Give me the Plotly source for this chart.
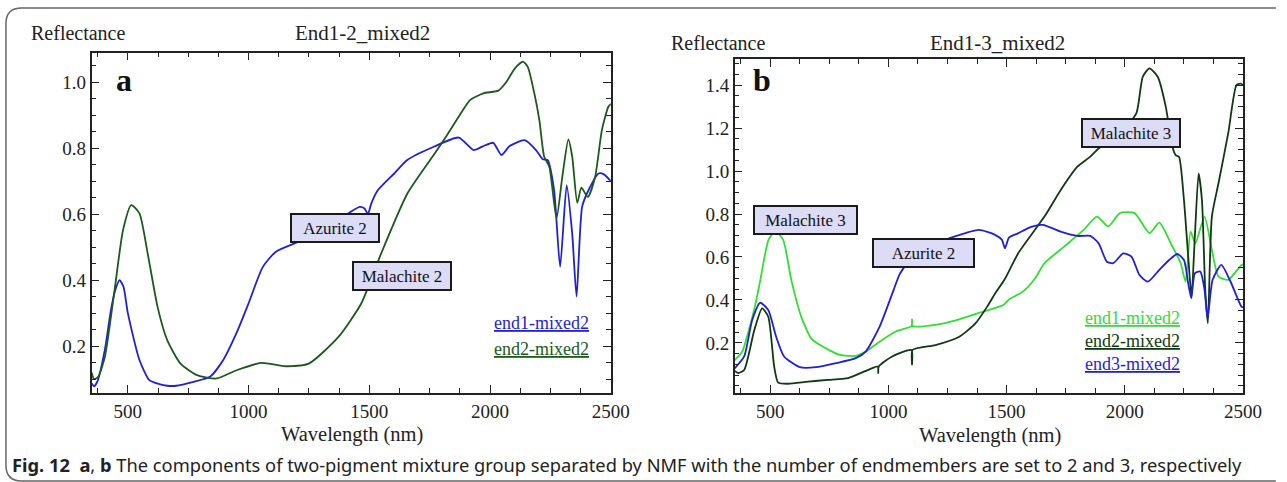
import plotly.graph_objects as go

# ---------------- data ----------------
# Panel a: End1-2_mixed2
a_end1_wl = [350, 360, 375, 405, 430, 450, 466, 482, 500, 548, 589, 630, 663, 700, 772, 840, 895, 950,
             1000, 1059, 1113, 1222, 1358, 1412, 1460, 1480, 1494, 1508, 1535, 1603, 1657, 1767, 1870,
             1932, 1972, 2013, 2047, 2081, 2143, 2190, 2218, 2238, 2265, 2290, 2317, 2340, 2358, 2381,
             2408, 2449, 2470, 2500]
a_end1_r = [0.088, 0.078, 0.095, 0.19, 0.31, 0.375, 0.40, 0.38, 0.30, 0.158, 0.097, 0.085, 0.080, 0.080,
            0.092, 0.107, 0.158, 0.24, 0.33, 0.44, 0.486, 0.521, 0.577, 0.602, 0.622, 0.617, 0.600,
            0.632, 0.672, 0.723, 0.764, 0.804, 0.832, 0.794, 0.806, 0.816, 0.779, 0.806, 0.824, 0.794,
            0.766, 0.764, 0.673, 0.44, 0.688, 0.541, 0.35, 0.622, 0.673, 0.723, 0.721, 0.70]

a_end2_wl = [350, 360, 377, 405, 445, 480, 514, 548, 582, 623, 663, 718, 786, 868, 950, 1052, 1154, 1249,
             1372, 1467, 1549, 1658, 1767, 1822, 1870, 1918, 1972, 2034, 2068, 2102, 2136, 2156, 2183,
             2204, 2224, 2245, 2275, 2299, 2324, 2340, 2361, 2378, 2405, 2435, 2463, 2490, 2500]
a_end2_r = [0.12, 0.10, 0.107, 0.168, 0.37, 0.551, 0.627, 0.602, 0.481, 0.319, 0.218, 0.147, 0.112, 0.102,
            0.127, 0.149, 0.139, 0.147, 0.228, 0.33, 0.481, 0.663, 0.78, 0.84, 0.895, 0.946, 0.966, 0.974,
            1.001, 1.041, 1.062, 1.046, 0.966, 0.885, 0.774, 0.744, 0.587, 0.713, 0.826, 0.774, 0.634,
            0.68, 0.652, 0.713, 0.855, 0.926, 0.934]

# Panel b: End1-3_mixed2
b_end1_wl = [350, 382, 410, 437, 458, 493, 522, 555, 590, 632, 674, 711, 795, 862, 904, 963, 1031, 1098,
             1100, 1102, 1199, 1300, 1401, 1486, 1511, 1570, 1620, 1660, 1743, 1826, 1882, 1930, 1979,
             2041, 2104, 2146, 2194, 2236, 2257, 2278, 2298, 2337, 2368, 2396, 2437, 2493, 2500]
b_end1_r = [0.12, 0.16, 0.26, 0.377, 0.49, 0.68, 0.72, 0.68, 0.49, 0.32, 0.22, 0.19, 0.144, 0.14, 0.16,
            0.206, 0.253, 0.279, 0.31, 0.279, 0.284, 0.31, 0.346, 0.377, 0.403, 0.44, 0.50, 0.571, 0.648,
            0.726, 0.788, 0.742, 0.804, 0.804, 0.711, 0.76, 0.664, 0.571, 0.485, 0.718, 0.664, 0.788,
            0.633, 0.509, 0.494, 0.563, 0.565]

b_end2_wl = [350, 365, 390, 433, 466, 492, 517, 534, 576, 660, 744, 829, 930, 955, 957, 959, 1014, 1098,
             1100, 1102, 1199, 1300, 1368, 1418, 1452, 1494, 1549, 1660, 1729, 1799, 1854, 1889, 1950,
             2000, 2049, 2076, 2104, 2139, 2173, 2201, 2215, 2229, 2250, 2268, 2282, 2296, 2312, 2326,
             2340, 2351, 2368, 2396, 2437, 2472, 2490, 2500]
b_end2_r = [0.07, 0.06, 0.074, 0.26, 0.361, 0.322, 0.09, 0.015, 0.01, 0.02, 0.028, 0.036, 0.082, 0.09,
            0.06, 0.09, 0.136, 0.167, 0.10, 0.167, 0.19, 0.229, 0.291, 0.369, 0.431, 0.5, 0.617, 0.788,
            0.912, 1.02, 1.067, 1.105, 1.15, 1.2, 1.27, 1.439, 1.478, 1.439, 1.30, 1.113, 1.074, 1.066,
            0.865, 0.602, 0.416, 0.695, 0.989, 0.865, 0.447, 0.291, 0.788, 0.943, 1.175, 1.40, 1.407, 1.40]

b_end3_wl = [350, 390, 424, 458, 492, 525, 559, 626, 694, 778, 862, 904, 963, 1022, 1048, 1100, 1178,
             1257, 1382, 1451, 1480, 1493, 1510, 1548, 1604, 1653, 1729, 1799, 1854, 1889, 1924, 1951,
             1993, 2028, 2062, 2097, 2146, 2187, 2222, 2250, 2268, 2281, 2296, 2319, 2337, 2350, 2371,
             2408, 2444, 2493, 2500]
b_end3_r = [0.082, 0.137, 0.307, 0.387, 0.353, 0.23, 0.137, 0.087, 0.087, 0.106, 0.129, 0.16, 0.276, 0.446,
            0.52, 0.60, 0.66, 0.687, 0.726, 0.703, 0.68, 0.64, 0.69, 0.71, 0.74, 0.749, 0.718, 0.698,
            0.698, 0.664, 0.578, 0.571, 0.617, 0.602, 0.516, 0.485, 0.540, 0.586, 0.614, 0.586, 0.477,
            0.408, 0.524, 0.532, 0.447, 0.315, 0.493, 0.563, 0.493, 0.369, 0.365]

a_title = "End1-2_mixed2"
b_title = "End1-3_mixed2"
caption = ("<b>Fig. 12</b>\u00a0 <b>a</b>, <b>b</b> The components of two-pigment mixture group separated "
           "by NMF with the number of endmembers are set to 2 and 3, respectively")

# ---------------- styling ----------------
W, H = 1287, 482
BLUE = "#1f1fd8"
DKGREEN_A = "#1b5a1b"
DKGREEN_B = "#0e3a10"
LTGREEN = "#30e030"
SERIF = "'Liberation Serif', 'DejaVu Serif', serif"
SANS = "'Noto Sans', 'Open Sans', sans-serif"


def px(x):
    return x / W


def py(y):
    return 1 - y / H


fig = go.Figure()
line_kw = dict(shape="spline", smoothing=0.6, width=1.8)
fig.add_trace(go.Scatter(x=a_end1_wl, y=a_end1_r, name="end1-mixed2", mode="lines",
                         line=dict(color=BLUE, **line_kw), xaxis="x", yaxis="y"))
fig.add_trace(go.Scatter(x=a_end2_wl, y=a_end2_r, name="end2-mixed2", mode="lines",
                         line=dict(color=DKGREEN_A, **line_kw), xaxis="x", yaxis="y"))
fig.add_trace(go.Scatter(x=b_end1_wl, y=b_end1_r, name="end1-mixed2", mode="lines",
                         line=dict(color=LTGREEN, **line_kw), xaxis="x2", yaxis="y2"))
fig.add_trace(go.Scatter(x=b_end2_wl, y=b_end2_r, name="end2-mixed2", mode="lines",
                         line=dict(color=DKGREEN_B, **line_kw), xaxis="x2", yaxis="y2"))
fig.add_trace(go.Scatter(x=b_end3_wl, y=b_end3_r, name="end3-mixed2", mode="lines",
                         line=dict(color=BLUE, **line_kw), xaxis="x2", yaxis="y2"))

axis_common = dict(showline=True, linecolor="#222", linewidth=1.5, mirror="allticks",
                   ticks="inside", tickcolor="#222", tickwidth=1.2, showgrid=False, zeroline=False,
                   tickfont=dict(family=SERIF, size=19, color="#222"))
xmin = dict(ticks="inside", dtick=125, tick0=0, ticklen=5, tickcolor="#222", showgrid=False)
ymin = dict(ticks="inside", dtick=0.05, tick0=0, ticklen=5, tickcolor="#222", showgrid=False)

fig.update_layout(
    width=W, height=H, autosize=False,
    margin=dict(l=0, r=0, t=0, b=0),
    paper_bgcolor="white", plot_bgcolor="white",
    showlegend=False,
    xaxis=dict(domain=[px(93), px(620)], range=[350, 2500], tickvals=[500, 1000, 1500, 2000, 2500],
               ticklen=8, minor=xmin, anchor="y", **axis_common),
    yaxis=dict(domain=[py(393), py(52.7)], range=[0.058, 1.089], tickvals=[0.2, 0.4, 0.6, 0.8, 1.0],
               tickformat=".1f", ticklen=8, minor=ymin, anchor="x", **axis_common),
    xaxis2=dict(domain=[px(745.7), px(1261.7)], range=[350, 2500], tickvals=[500, 1000, 1500, 2000, 2500],
                ticklen=8, minor=xmin, anchor="y2", **axis_common),
    yaxis2=dict(domain=[py(393), py(59.3)], range=[-0.033, 1.52],
                tickvals=[0.2, 0.4, 0.6, 0.8, 1.0, 1.2, 1.4], tickformat=".1f", ticklen=8,
                minor=ymin, anchor="x2", **axis_common),
)

ann = []


def text(x, y, s, size=20, color="#222", family=SERIF, xanchor="center", yanchor="middle", **kw):
    ann.append(dict(x=x, y=y, xref="paper", yref="paper", text=s, showarrow=False,
                    xanchor=xanchor, yanchor=yanchor, font=dict(family=family, size=size, color=color), **kw))


# axis/panel texts
text(px(29), py(33), "Reflectance", xanchor="left")
text(px(368), py(33), a_title, size=21)
text(px(357), py(434), "Wavelength (nm)", size=20.5)
text(px(679), py(43), "Reflectance", xanchor="left")
text(px(1012), py(43), b_title, size=21)
text(px(1005), py(435), "Wavelength (nm)", size=20.5)
text(px(126), py(80), "<b>a</b>", size=32, color="#111")
text(px(773), py(80), "<b>b</b>", size=32, color="#111")

# legends (underlined coloured text)
text(px(600), py(323), "<u>end1-mixed2</u>", size=18, color=BLUE, xanchor="right")
text(px(600), py(349), "<u>end2-mixed2</u>", size=18, color=DKGREEN_A, xanchor="right")
text(px(1200), py(318), "<u>end1-mixed2</u>", size=18, color=LTGREEN, xanchor="right")
text(px(1200), py(341), "<u>end2-mixed2</u>", size=18, color=DKGREEN_B, xanchor="right")
text(px(1200), py(364), "<u>end3-mixed2</u>", size=18, color=BLUE, xanchor="right")

# caption
text(px(10), py(464), caption, size=18.3, color="#222", family=SANS, xanchor="left")


def label(x, y, s, xref, yref, w):
    ann.append(dict(x=x, y=y, xref=xref, yref=yref, text=s, showarrow=False, width=w, height=20,
                    align="center", valign="middle",
                    font=dict(family=SERIF, size=17, color="#111"),
                    bgcolor="#dcdcf6", bordercolor="#1a1a1a", borderwidth=2, borderpad=3))


label(1359, 0.558, "Azurite 2", "x", "y", 80)
label(1637, 0.412, "Malachite 2", "x", "y", 90)
label(651, 0.772, "Malachite 3", "x2", "y2", 95)
label(1147, 0.619, "Azurite 2", "x2", "y2", 93)
label(2027, 1.177, "Malachite 3", "x2", "y2", 90)

fig.update_layout(annotations=ann)

# outer frame with rounded left corners
frame = (f"M {px(1295)},{py(8)} L {px(22)},{py(8)} Q {px(6)},{py(8)} {px(6)},{py(24)} "
         f"L {px(6)},{py(465)} Q {px(6)},{py(481)} {px(22)},{py(481)} L {px(1295)},{py(481)}")
fig.add_shape(type="path", path=frame, xref="paper", yref="paper",
              line=dict(color="#666", width=1.5))

fig.write_html("out.html")
